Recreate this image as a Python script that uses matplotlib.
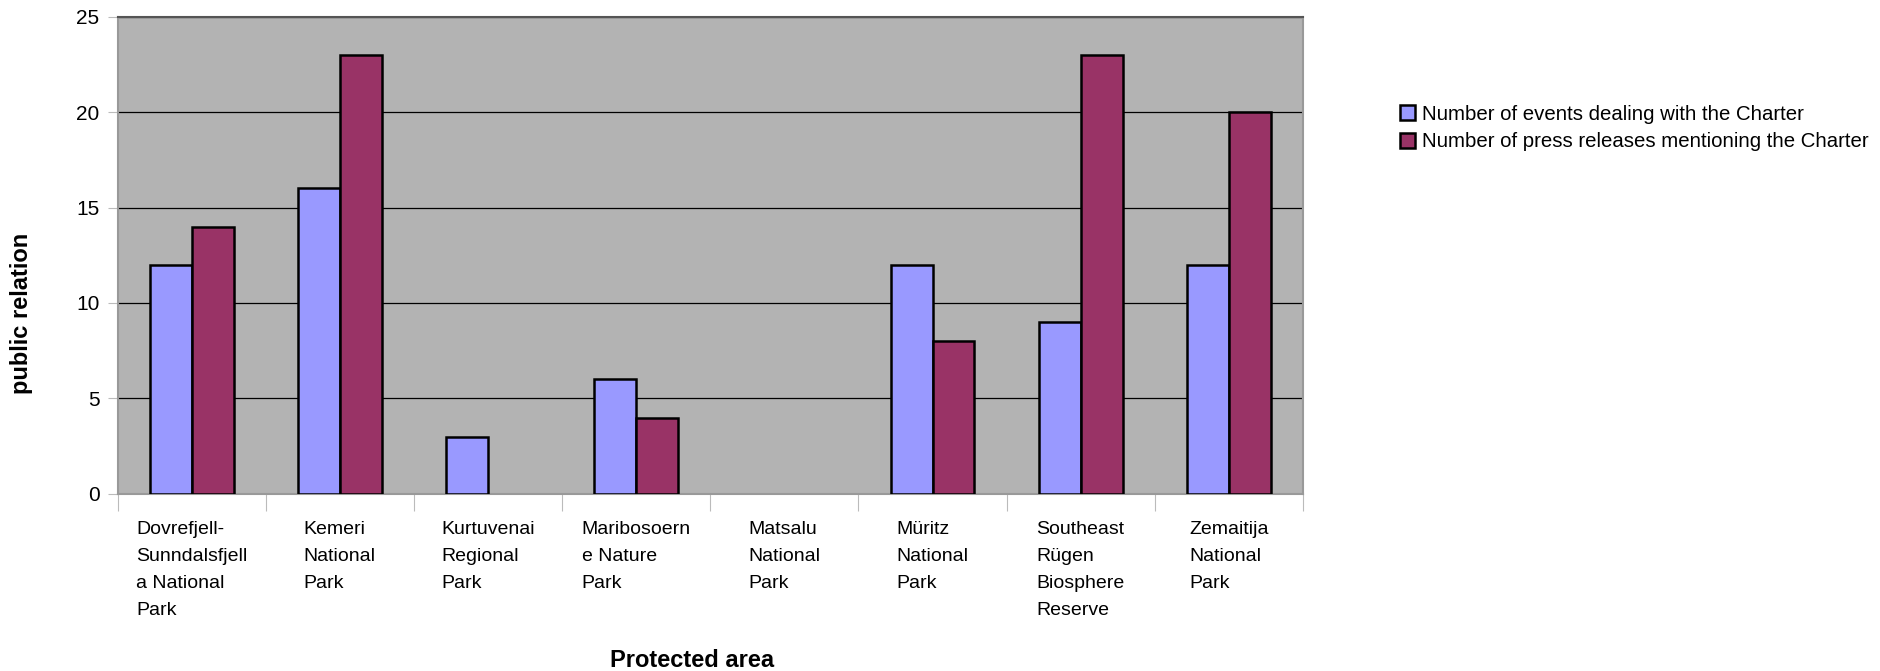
import matplotlib
matplotlib.use("Agg")
import matplotlib.pyplot as plt
import numpy as np
from matplotlib.patches import Patch

categories = ["Dovrefjell-\nSunndalsfjell\na National\nPark", "Kemeri\nNational\nPark",
              "Kurtuvenai\nRegional\nPark", "Maribosoern\ne Nature\nPark",
              "Matsalu\nNational\nPark", "Müritz\nNational\nPark",
              "Southeast\nRügen\nBiosphere\nReserve", "Zemaitija\nNational\nPark"]
events = [12, 16, 3, 6, 0, 12, 9, 12]
press = [14, 23, 0, 4, 0, 8, 23, 20]
series_names = ["Number of events dealing with the Charter",
                "Number of press releases mentioning the Charter"]
yticks = [0, 5, 10, 15, 20, 25]

plt.rcParams['font.family'] = ['Liberation Sans', 'DejaVu Sans']
c_blue = "#9999FF"
c_red = "#993366"

fig = plt.figure(figsize=(18.8, 6.71), dpi=100)
ax = fig.add_axes([0.0625, 0.2638, 0.6306, 0.7116])
ax.set_facecolor("#B3B3B3")

x = np.arange(len(categories))
w = 0.283
b1 = ax.bar(x - w/2, events, w, color=c_blue, edgecolor="black", linewidth=1.8, zorder=3)
b2 = ax.bar(x + w/2, press, w, color=c_red, edgecolor="black", linewidth=1.8, zorder=3)
for bars in (b1, b2):
    for p in bars:
        if p.get_height() == 0:
            p.set_visible(False)

ax.set_xlim(-0.5, len(categories) - 0.5)
ax.set_ylim(0, 25)
ax.set_yticks(yticks)
ax.set_yticklabels([str(v) for v in yticks], fontsize=15)
ax.yaxis.grid(True, color="black", linewidth=0.9, zorder=1)
ax.set_axisbelow(True)
ax.tick_params(axis='y', direction='out', length=7, color="#BBBBBB", pad=6)

# x ticks at category boundaries
ax.set_xticks(np.arange(len(categories) + 1) - 0.5)
ax.set_xticklabels([])
ax.tick_params(axis='x', direction='out', length=12, color="#BBBBBB")
for i, lab in enumerate(categories):
    ax.annotate(lab, xy=(x[i], 0), xycoords=('data', 'axes fraction'),
                xytext=(0, -19.5), textcoords='offset points',
                ha='center', va='top', multialignment='left',
                fontsize=14, linespacing=1.76)

for s in ax.spines.values():
    s.set_color("#999999")
    s.set_linewidth(1.5)
ax.spines['top'].set_color("#555555")

fig.text(0.0117, 0.533, "public relation", rotation=90, ha='center', va='center',
         fontsize=17, fontweight='bold')
fig.text(0.368, 0.015, "Protected area", ha='center', va='center',
         fontsize=17, fontweight='bold')

handles = [Patch(facecolor=c_blue, edgecolor='black', linewidth=1.8),
           Patch(facecolor=c_red, edgecolor='black', linewidth=1.8)]
fig.legend(handles, series_names, loc='upper left', bbox_to_anchor=(0.7395, 0.859),
           frameon=False, fontsize=14.7, handlelength=0.72, handleheight=0.72,
           handletextpad=0.34, labelspacing=0.42, borderpad=0)

fig.savefig("out.png", dpi=100)
